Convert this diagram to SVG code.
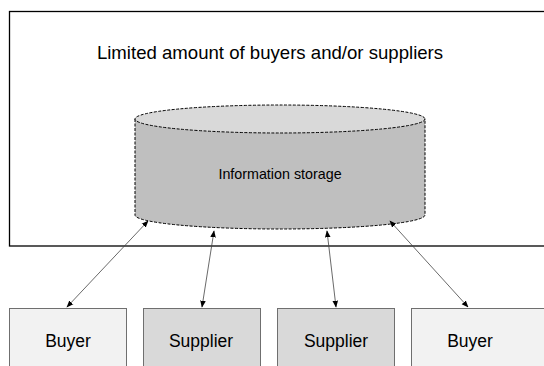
<svg xmlns="http://www.w3.org/2000/svg" width="544" height="366" viewBox="0 0 544 366">
  <defs>
    <marker id="ah" viewBox="0 0 10 10" refX="9" refY="5" markerWidth="7" markerHeight="7" orient="auto-start-reverse" markerUnits="userSpaceOnUse">
      <path d="M0,1 L10,5 L0,9 Z" fill="#000"/>
    </marker>
    <style>
      text { font-family: "Liberation Sans", Arial, sans-serif; fill: #000; text-anchor: middle; }
      .frame { fill: #fff; stroke: #000; stroke-width: 1.3; }
      .box { stroke: #6f6f6f; stroke-width: 1; }
      .buyer { fill: #f2f2f2; }
      .supplier { fill: #d9d9d9; }
      .dash { stroke: #000; stroke-width: 1; stroke-dasharray: 3 1.5; }
      .link { stroke: #444; stroke-width: 0.8; fill: none; marker-start: url(#ah); marker-end: url(#ah); }
      .lbl { font-size: 17.5px; }
    </style>
  </defs>

  <rect width="544" height="366" fill="#fff"/>

  <g id="market">
    <rect class="frame" x="9.5" y="11.5" width="545" height="234.5"/>
    <text x="270" y="59" font-size="18.6">Limited amount of buyers and/or suppliers</text>
  </g>

  <g id="storage">
    <path d="M135,119 L135,215 A145,14 0 0 0 425,215 L425,119 Z" fill="#bfbfbf" class="dash"/>
    <ellipse cx="280" cy="119" rx="145" ry="14" fill="#d9d9d9" class="dash"/>
    <text x="280" y="179" font-size="14.3">Information storage</text>
  </g>

  <g id="connectors">
    <line class="link" x1="148" y1="221" x2="67" y2="307"/>
    <line class="link" x1="214" y1="231" x2="202" y2="307"/>
    <line class="link" x1="327" y1="231" x2="336" y2="307"/>
    <line class="link" x1="390" y1="221" x2="468" y2="307"/>
  </g>

  <g id="buyer-left">
    <rect class="box buyer" x="9.5" y="308.5" width="117" height="70"/>
    <text class="lbl" x="68" y="347">Buyer</text>
  </g>
  <g id="supplier-left">
    <rect class="box supplier" x="143.5" y="308.5" width="117" height="70"/>
    <text class="lbl" x="201" y="347">Supplier</text>
  </g>
  <g id="supplier-right">
    <rect class="box supplier" x="277.5" y="308.5" width="117" height="70"/>
    <text class="lbl" x="336" y="347">Supplier</text>
  </g>
  <g id="buyer-right">
    <rect class="box buyer" x="411.5" y="308.5" width="140" height="70"/>
    <text class="lbl" x="470" y="347">Buyer</text>
  </g>
</svg>
